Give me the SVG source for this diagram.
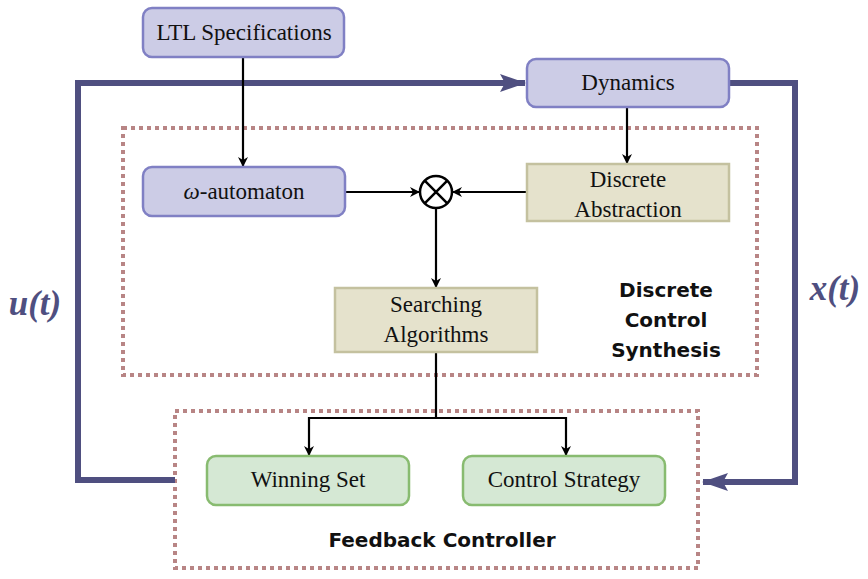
<svg xmlns="http://www.w3.org/2000/svg" width="868" height="579" viewBox="0 0 868 579">
<defs>
<style>
.blue{fill:#ccccE6;stroke:#8080c4;stroke-width:2.5}
.tan{fill:#e5e2cc;stroke:#c4c19f;stroke-width:2.5}
.green{fill:#d5e8d4;stroke:#88bb70;stroke-width:2.5}
.dot{fill:none;stroke:#b88585;stroke-width:4;stroke-dasharray:4 4}
.t{font-family:"Liberation Serif",serif;font-size:23px;fill:#111;text-anchor:middle}
.b{font-family:"DejaVu Sans","Liberation Sans",sans-serif;font-weight:bold;font-size:20px;fill:#111;text-anchor:middle}
.m{font-family:"Liberation Serif",serif;font-weight:bold;font-style:italic;font-size:35px;fill:#4f4f80;text-anchor:middle}
.c{fill:none;stroke:#000;stroke-width:2.2}
.thick{fill:none;stroke:#4f4f80;stroke-width:6}
</style>
<marker id="ah" viewBox="0 0 10 10" refX="9" refY="5" markerWidth="10" markerHeight="10" markerUnits="userSpaceOnUse" orient="auto">
<path d="M0,0 L10,5 L0,10 L3,5 Z" fill="#000"/>
</marker>
<marker id="bh" viewBox="0 0 26 18" refX="25" refY="9" markerWidth="26" markerHeight="18" markerUnits="userSpaceOnUse" orient="auto">
<path d="M0,0 L26,9 L0,18 L5,9 Z" fill="#4f4f80"/>
</marker>
</defs>
<rect class="dot" x="123" y="128" width="634" height="247"/>
<rect class="dot" x="175" y="411" width="523" height="157"/>
<g id="connectors">
<polyline class="thick" points="175,480 78,480 78,83 525,83" marker-end="url(#bh)"/>
<polyline class="thick" points="729,83 795,83 795,482 703,482" marker-end="url(#bh)"/>
<line class="c" x1="243" y1="58" x2="243" y2="166" marker-end="url(#ah)"/>
<line class="c" x1="627" y1="107" x2="627" y2="163" marker-end="url(#ah)"/>
<line class="c" x1="345" y1="192" x2="419" y2="192" marker-end="url(#ah)"/>
<line class="c" x1="527" y1="192" x2="453" y2="192" marker-end="url(#ah)"/>
<line class="c" x1="436" y1="208" x2="436" y2="287" marker-end="url(#ah)"/>
<polyline class="c" points="436,352 436,418"/>
<polyline class="c" points="436,418 309,418 309,455" marker-end="url(#ah)"/>
<polyline class="c" points="436,418 566,418 566,455" marker-end="url(#ah)"/>
</g>
<g id="ltl"><rect class="blue" x="143" y="8" width="201" height="49" rx="9"/><text class="t" x="244" y="40">LTL Specifications</text></g>
<g id="dynamics"><rect class="blue" x="527" y="59" width="202" height="48" rx="9"/><text class="t" x="628" y="90">Dynamics</text></g>
<g id="omega"><rect class="blue" x="143" y="167" width="202" height="49" rx="9"/><text class="t" x="244" y="199"><tspan font-style="italic">ω</tspan>-automaton</text></g>
<g id="combine"><circle cx="436" cy="192" r="16" fill="#fff" stroke="#000" stroke-width="2.5"/><path d="M424.7,180.7 L447.3,203.3 M447.3,180.7 L424.7,203.3" stroke="#000" stroke-width="2.5"/></g>
<g id="abstraction"><rect class="tan" x="527" y="164" width="202" height="57"/><text class="t" x="628" y="187">Discrete</text><text class="t" x="628" y="217">Abstraction</text></g>
<g id="searching"><rect class="tan" x="335" y="288" width="202" height="64"/><text class="t" x="436" y="312">Searching</text><text class="t" x="436" y="342">Algorithms</text></g>
<g id="winning"><rect class="green" x="207" y="456" width="202" height="49" rx="9"/><text class="t" x="308" y="487">Winning Set</text></g>
<g id="strategy"><rect class="green" x="463" y="456" width="202" height="49" rx="9"/><text class="t" x="564" y="487">Control Strategy</text></g>
<g id="labels">
<text class="b" x="666" y="297">Discrete</text>
<text class="b" x="666" y="327">Control</text>
<text class="b" x="666" y="357">Synthesis</text>
<text class="b" x="442" y="547">Feedback Controller</text>
<text class="m" x="35" y="315">u(t)</text>
<text class="m" x="835" y="300">x(t)</text>
</g>
</svg>
